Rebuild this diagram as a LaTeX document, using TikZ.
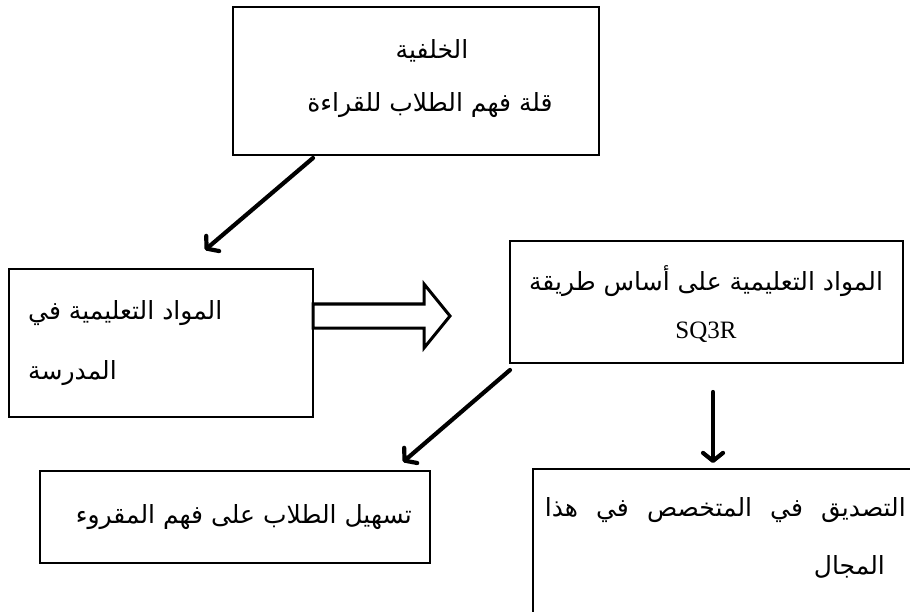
\documentclass[tikz,border=0pt]{standalone}
\usepackage{fontspec}
\setmainfont{Liberation Serif}
\newfontfamily\arabicfont[Script=Arabic]{DejaVu Sans}
\TeXXeTstate=1
\usepackage{xcolor}
\usepackage{tikz}
\usetikzlibrary{arrows.meta}
\definecolor{ink}{HTML}{000000}
\definecolor{paper}{HTML}{FFFFFF}
\tikzset{
  box/.style={draw=ink, line width=1.6pt},
  arr/.style={draw=ink, line width=4.2pt, line cap=round, line join=round,
    -{Straight Barb[length=8pt,width=20pt,line cap=round,line join=round]}},
  hollow/.style={draw=ink, fill=paper, line width=3pt, line join=miter},
  lab/.style={text=ink, inner sep=0pt, font=\arabicfont\fontsize{25}{30}\selectfont},
  latin/.style={text=ink, inner sep=0pt, font=\fontsize{25}{30}\selectfont}
}
\newcommand{\rl}[1]{\beginR #1\endR}

\begin{document}
\begin{tikzpicture}[x=1pt,y=-1pt]
  \useasboundingbox (0,0) rectangle (910,612);
  \clip (0,0) rectangle (910,612);
  \node[box, minimum width=366pt, minimum height=148pt] (bg) at (416,81) {};
  \node[lab] (bg1) at (432,51) {\rl{الخلفية}};
  \node[lab] (bg2) at (430,105) {\rl{قلة فهم الطلاب للقراءة}};

  \node[box, minimum width=304pt, minimum height=148pt] (school) at (161,343) {};
  \node[lab, anchor=west] (school1) at (28,313) {\rl{المواد التعليمية في}};
  \node[lab, anchor=west] (school2) at (28,373) {\rl{المدرسة}};

  \node[box, minimum width=393pt, minimum height=122pt] (sq) at (706.5,302) {};
  \node[lab] (sq1) at (706,281) {\rl{المواد التعليمية على أساس طريقة}};
  \node[latin] (sq2) at (706,332) {SQ3R};

  \node[box, minimum width=390pt, minimum height=92pt] (ease) at (235,517) {};
  \node[lab, anchor=east] (ease1) at (412,517) {\rl{تسهيل الطلاب على فهم المقروء}};

  \node[box, anchor=north west, minimum width=420pt, minimum height=200pt] (expert) at (532,468) {};
  \node[lab, anchor=east] (expert1) at (906,510) {\makebox[361pt][s]{\rl{التصديق في المتخصص في هذا}}};
  \node[lab, anchor=east] (expert2) at (885,567) {\rl{المجال}};

  \coordinate (a1s) at (313,158);
  \coordinate (a1e) at (205,250);
  \coordinate (a2s) at (510,370);
  \coordinate (a2e) at (403,462);
  \coordinate (a3s) at (713,392);
  \coordinate (a3e) at (713,463);
  \draw[arr] (a1s) -- (a1e);
  \draw[arr] (a2s) -- (a2e);
  \draw[arr] (a3s) -- (a3e);

  \draw[hollow] (313,304) -- (424,304) -- (424,284) -- (450,316) -- (424,348) -- (424,328) -- (313,328) -- cycle;
\end{tikzpicture}
\end{document}
